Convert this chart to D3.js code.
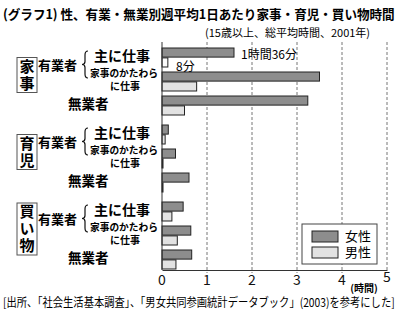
<!DOCTYPE html>
<html>
<head>
<meta charset="utf-8">
<script src="https://cdn.jsdelivr.net/npm/d3@7"></script>
<style>
body { margin: 0; background: #fff; }
svg { display: block; font-family: "Noto Sans CJK JP", sans-serif; }
</style>
</head>
<body>
<div id="chart"></div>
<script>
// 区分
var sections = ["家事", "育児", "買い物"];
var groups = ["主に仕事", "かたわら", "無業者"];
var sexes = ["女性", "男性"];
var ticks = [0, 1, 2, 3, 4, 5];

// 時間（h）
var female = [1.6, 3.5, 3.24, 0.14, 0.3, 0.6, 0.47, 0.64, 0.66];
var male = [0.13, 0.77, 0.5, 0.07, 0.01, 0.02, 0.22, 0.34, 0.31];

var rows = [];
sections.forEach(function(s, i) {
    groups.forEach(function(g, j) {
        rows.push({sec: s, grp: g, sex: "女性", v: female[i * 3 + j]});
        rows.push({sec: s, grp: g, sex: "男性", v: male[i * 3 + j]});
    });
});

var W = 400, H = 317;
var svg = d3.select("#chart").append("svg").attr("width", W).attr("height", H);

var x = d3.scaleLinear().domain([0, 5]).range([162, 387]);
var ySec = d3.scaleBand().domain(sections).range([46, 277]);
var yGrp = d3.scaleBand().domain(groups).range([0, 72]);
var ySex = d3.scaleBand().domain(sexes).range([2, 21]).paddingInner(0.08);

var axisY = 270, gridTop = 42;

// 横幅に合わせて縮める
function fitText(sel, x0, y0, w) {
    var len = sel.node().getComputedTextLength();
    var sx = Math.min(1, w / len);
    sel.attr("transform", "translate(" + x0 + "," + y0 + ") scale(" + sx + ",1)");
}

// 目盛り線
svg.append("g").selectAll("line").data(ticks.slice(1)).enter().append("line")
    .attr("x1", function(d) { return x(d); })
    .attr("x2", function(d) { return x(d); })
    .attr("y1", gridTop).attr("y2", axisY + 3)
    .attr("stroke", "#777").attr("stroke-width", 1).attr("stroke-dasharray", "3,2");

// 棒
svg.append("g").selectAll("rect").data(rows).enter().append("rect")
    .attr("x", x(0))
    .attr("y", function(d) { return ySec(d.sec) + yGrp(d.grp) + ySex(d.sex); })
    .attr("width", function(d) { return Math.max(x(d.v) - x(0), 1); })
    .attr("height", ySex.bandwidth())
    .attr("fill", function(d) {
        if (d.sex == "女性") return "#8d8d8d";
        return d.sec == "家事" && d.grp == "主に仕事" ? "#fafafa" : "#e2e2e2";
    })
    .attr("stroke", "#222").attr("stroke-width", 1);

// 軸
svg.append("line").attr("x1", x(0)).attr("x2", x(0)).attr("y1", gridTop).attr("y2", axisY)
    .attr("stroke", "#333").attr("stroke-width", 1);
var xAxis = svg.append("g").attr("transform", "translate(0," + axisY + ")")
    .call(d3.axisBottom(x).tickValues(ticks).tickSize(0).tickFormat(""));
xAxis.select(".domain").attr("stroke", "#333");
// 目盛りラベル
svg.append("g").selectAll("text").data(ticks).enter().append("text")
    .attr("x", function(d) { return x(d); })
    .attr("y", function(d) { return d == 5 ? 282 : 285; })
    .attr("text-anchor", "middle")
    .attr("font-size", 14).attr("fill", "#111")
    .text(function(d) { return d; });
svg.append("text").attr("x", 364).attr("y", 292).attr("text-anchor", "middle")
    .attr("font-size", 10).attr("font-weight", "bold").text("(時間)");

// 注記
svg.append("text").attr("x", 241).attr("y", 59).attr("font-size", 12).text("1時間36分");
svg.append("text").attr("x", 176).attr("y", 71).attr("font-size", 12).text("8分");

// 左ラベル
sections.forEach(function(s) {
    var top = ySec(s);
    var n = s.length;
    var bh = n * 17 + 1;
    var cy = top + 29;
    svg.append("rect").attr("x", 17).attr("y", cy - bh / 2).attr("width", 20).attr("height", bh)
        .attr("fill", "#fff").attr("stroke", "#555").attr("stroke-width", 1);
    svg.append("text").attr("x", 27).attr("y", cy - bh / 2 + 1)
        .style("writing-mode", "vertical-rl")
        .attr("letter-spacing", 2)
        .attr("font-size", 15).attr("font-weight", "bold").text(s);
    svg.append("text").attr("x", 38).attr("y", top + 19).attr("dy", "0.36em")
        .attr("font-size", 13).attr("font-weight", "bold").text("有業者");
    // 括弧
    var b0 = top + 5, b1 = top + 32, m = (b0 + b1) / 2;
    svg.append("path")
        .attr("d", "M88," + b0 + " Q85," + b0 + " 85," + (b0 + 4) + " L85," + (m - 3) +
            " Q85," + m + " 82," + m + " Q85," + m + " 85," + (m + 3) +
            " L85," + (b1 - 4) + " Q85," + b1 + " 88," + b1)
        .attr("fill", "none").attr("stroke", "#111").attr("stroke-width", 1.2);
    var c0 = top + yGrp("主に仕事") + 11;
    svg.append("text").attr("x", 94).attr("y", c0 - 1.5).attr("dy", "0.36em")
        .attr("font-size", 14).attr("font-weight", "bold").text("主に仕事");
    var c1 = top + yGrp("かたわら") + 11;
    var t1 = svg.append("text").attr("dy", "0.36em")
        .attr("font-size", 10).attr("font-weight", "bold").text("家事のかたわら");
    fitText(t1, 90, c1 - 8, 68);
    svg.append("text").attr("x", 110).attr("y", c1 + 5.5).attr("dy", "0.36em")
        .attr("font-size", 10).attr("font-weight", "bold").text("に仕事");
    var c2 = top + yGrp("無業者") + 11;
    svg.append("text").attr("x", 68).attr("y", c2 - 1).attr("dy", "0.36em")
        .attr("font-size", 13.5).attr("font-weight", "bold").text("無業者");
});

// 凡例
var lg = svg.append("g").attr("transform", "translate(302,224)");
lg.append("rect").attr("width", 75).attr("height", 40).attr("fill", "#fff")
    .attr("stroke", "#444").attr("stroke-width", 1);
sexes.forEach(function(s, i) {
    lg.append("rect").attr("x", 10).attr("y", 7 + i * 16).attr("width", 26).attr("height", 11)
        .attr("fill", i == 0 ? "#8d8d8d" : "#e2e2e2").attr("stroke", "#222");
    lg.append("text").attr("x", 43).attr("y", 12.5 + i * 16).attr("dy", "0.36em")
        .attr("font-size", 13).text(s);
});

// タイトル
var title = svg.append("text").attr("font-size", 13).attr("font-weight", "bold")
    .text("(グラフ1) 性、有業・無業別週平均1日あたり家事・育児・買い物時間");
fitText(title, 3, 19, 392);
var sub = svg.append("text").attr("font-size", 11)
    .text("(15歳以上、総平均時間、2001年)");
fitText(sub, 205, 37, 190);
var foot = svg.append("text").attr("font-size", 12)
    .text("[出所、「社会生活基本調査」、「男女共同参画統計データブック」(2003)を参考にした]");
fitText(foot, 3, 307, 392);
</script>
</body>
</html>
